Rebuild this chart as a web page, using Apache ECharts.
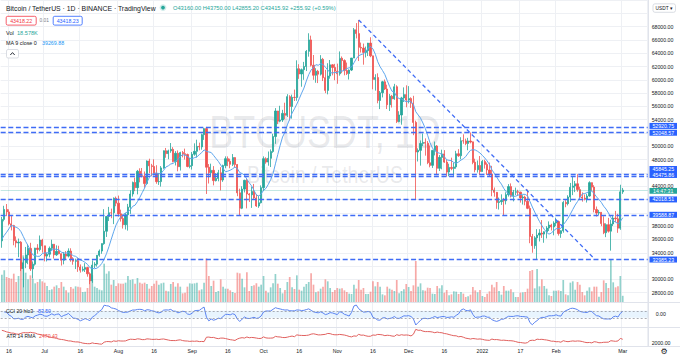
<!DOCTYPE html>
<html><head><meta charset="utf-8">
<script src="https://cdn.jsdelivr.net/npm/echarts@6/dist/echarts.min.js"></script>
<style>html,body{margin:0;padding:0;background:#fff;overflow:hidden}#c{width:680px;height:358px}</style>
</head><body><div id="c"></div>
<script>
// ---------- data (BTC/USDT daily, 2021-06-13 .. 2022-03-01) ----------
const startDate = [2021, 5, 13];
const totalDays = 272; // includes empty future days on the right
const tickLabels = [['2021-06-16','16'],['2021-07-01','Jul'],['2021-07-16','16'],['2021-08-01','Aug'],['2021-08-16','16'],['2021-09-01','Sep'],['2021-09-16','16'],['2021-10-01','Oct'],['2021-10-16','16'],['2021-11-01','Nov'],['2021-11-16','16'],['2021-12-01','Dec'],['2021-12-16','16'],['2022-01-01','2022'],['2022-01-17','17'],['2022-02-01','Feb'],['2022-03-01','Mar']];
const warmupCloses = [35520,35797,33581,33400,37389,36693,37314,35796];
const opens = [
35796,39020,40516,40143,38349,38092,35820,35483,35600,31614,32509,33675,34663,31577,32283,34702,34494,35911,
35045,33502,33786,34669,35288,33690,34220,33862,32875,33815,33502,34259,33087,32729,32820,31874,31384,31520,31778,30839,29790,32144,32287,33634,34262,35376,37241,39456,40019,40018,42206,
41461,39850,39146,38207,39724,40862,42836,44572,43794,46248,45585,45512,44400,47800,47069,46974,45902,44696,44705,46760,49339,48906,49321,49546,47707,48960,46942,49059,48895,48768,46970,
47100,48811,49247,49999,49918,51756,52667,46868,46048,46395,44843,45173,46025,44940,47103,48146,47753,47296,48307,47261,43012,40693,43574,44896,42840,42716,43208,42236,41035,41523,
43791,48142,47634,48200,49225,51472,55316,53786,53956,54950,54660,57471,55996,57370,57347,61672,60876,61528,62005,64280,66001,62194,60688,61286,60852,63078,60329,58413,60575,62253,61859,
61300,60911,63254,62896,61395,60940,61470,63274,67525,66947,64883,64774,64122,64381,65519,63606,60059,60345,56892,58057,59708,58623,56247,57541,57139,58960,53723,54716,57274,57776,
56951,57185,56485,53602,49153,49397,50441,50589,50471,47535,47141,49389,50054,46702,48336,48864,47632,46134,46834,46681,46914,48887,48588,50838,50820,50428,50802,50680,47623,46490,47120,
46217,47722,47286,46446,45832,43451,43082,41566,41680,41865,41822,42736,43950,42592,43100,43177,43113,42250,42375,41744,40680,36445,35071,36244,36660,36958,36807,37161,37712,38166,37882,
38466,38694,36897,37311,41572,41382,42380,43839,44043,44373,43495,42373,42217,42053,42535,44544,43873,40516,39974,40080,38387,37009,38230,37250,38328,39219,39116,37699,
43160];
const highs = [
39380,41064,41330,40527,39560,38202,36457,36137,35750,33298,34881,35298,35500,32700,34749,35297,36600,36100,
35057,33977,34945,35967,35293,35118,35059,33900,34100,34262,34666,34678,33340,33114,33185,32249,31935,32435,31899,31063,32858,32591,33650,34500,35398,40550,39542,40900,40640,42316,42448,
42599,40480,39780,39969,41350,43392,44700,45310,46454,46700,46743,46218,47887,48145,47372,48053,47160,46000,47033,49382,49757,49500,50500,49876,49278,49380,49188,49300,49657,48910,48250,
49150,50450,51000,50558,51900,52780,52920,47340,47399,47033,45970,46460,46880,47250,48500,48488,48150,48843,48372,47347,43639,44000,44978,45200,42970,43950,44350,42787,42590,44132,
48495,48358,49228,49536,51886,55750,55332,56100,55489,56561,57839,57680,57777,58532,62933,62350,61700,62695,64486,67000,66639,63732,61747,61500,63710,63293,61496,62499,62980,62359,62405,
62437,64270,63516,63086,62595,61560,63286,67789,68524,69000,65600,65450,65000,65550,66401,63617,60840,60977,58320,59846,60050,59266,57875,57735,59398,59183,55280,57445,58865,59176,
59054,57376,57600,53859,49700,50891,51936,51200,50797,50125,49485,50724,50189,48700,49500,49436,47995,47392,48300,47537,49328,49576,51375,51810,51156,51281,52088,50704,48139,47879,48549,
47954,47990,47570,47557,47070,43816,43145,42300,42786,42248,43100,44322,44434,43447,43800,43476,43180,42663,42579,43505,41100,36835,36499,37550,37545,38919,37234,38000,38720,38360,38738,
39265,38855,37387,41772,41914,42656,44500,45492,44799,45821,43920,43079,42760,42842,44751,44583,44164,40960,40444,40125,39494,38432,39249,38968,39683,40300,39855,44226,
43750];
const lows = [
34757,38730,39506,38116,37365,35129,34803,33336,31251,28805,31683,32286,31275,30151,32071,33862,34225,34017,
32711,32700,33316,34357,33125,33532,33777,32077,32261,33004,33307,32658,32202,31550,31133,31021,31175,31108,30407,29278,29482,31708,31924,33401,33851,35205,36383,38772,39200,38313,41000,
39423,38690,37642,37508,37332,39853,42446,43261,42779,44589,45341,43771,44217,45971,45500,45660,44376,44203,43955,46622,48285,48064,49028,47600,47126,46250,46363,48345,48010,46853,46700,
46512,48584,48316,49400,49500,50969,42843,44413,45514,44134,44722,44742,43370,44660,46700,47023,46700,47035,46850,42500,39600,40565,43069,40675,41646,40750,42098,40888,40754,41410,
43283,47390,47088,46891,49022,50383,53357,53617,53661,54080,54415,53879,54167,56818,56850,60150,58963,60000,61322,63481,62000,60000,59562,59510,60650,59817,58000,57820,60174,60674,59945,
59405,60624,61000,60677,60721,60050,61322,63273,66222,62822,64100,62278,63360,63576,63400,58574,58373,56474,55600,57353,58470,55610,55317,55837,57000,53500,53610,53256,56665,55875,
56458,55777,51680,42000,47727,47100,50039,48600,47320,46852,46751,48638,45672,46290,46547,47512,45456,45500,46406,45558,46630,48421,48049,50384,50171,49412,50449,47313,46096,46060,45678,
46208,46654,45696,45502,42500,42430,40610,40501,41200,39650,41268,42450,42311,41725,42654,42581,41540,41250,41138,40553,35440,34008,34602,32917,35701,36234,35507,36155,37268,37351,36632,
38000,36586,36250,37026,40844,41117,41645,42667,43117,43174,41938,41688,41870,41550,42427,43311,40073,39450,39639,38000,36800,36350,37036,34322,38015,38600,37000,37450,
42855.2];
const closes = [
39020,40516,40144,38349,38092,35820,35483,35600,31608,32509,33678,34664,31584,32283,34700,34494,35911,35045,
33504,33786,34669,35286,33690,34220,33862,32875,33815,33502,34259,33086,32729,32820,31880,31383,31520,31778,30839,29790,32144,32287,33634,34258,35381,37237,39457,40019,40016,42206,41462,
39845,39147,38207,39723,40862,42836,44572,43794,46253,45584,45512,44399,47800,47069,46973,45901,44696,44705,46760,49339,48905,49321,49546,47707,48960,46942,49059,48895,48767,46970,47100,
48810,49246,49999,49915,51756,52663,46863,46048,46395,44850,45173,46026,44941,47112,48146,47753,47303,48314,47261,43012,40693,43574,44895,42840,42716,43208,42236,41035,41522,43791,
48142,47634,48200,49225,51472,55316,53786,53951,54950,54659,57471,55996,57367,57347,61672,60875,61528,62009,64280,66001,62193,60688,61286,60852,63078,60328,58413,60575,62253,61859,61299,
60911,63219,62896,61395,60937,61470,63273,67525,66947,64882,64774,64122,64380,65519,63606,60059,60345,56892,58052,59708,58623,56247,57541,57138,58960,53726,54721,57274,57776,56950,
57185,56481,53601,49153,49396,50441,50588,50471,47545,47140,49389,50053,46702,48343,48864,47632,46131,46834,46681,46914,48889,48588,50838,50821,50429,50809,50640,47588,46464,47120,46216,
47722,47286,46446,45832,43451,43082,41566,41680,41864,41822,42735,43950,42592,43100,43177,43114,42251,42375,41744,40681,36445,35071,36244,36660,36958,36809,37161,37712,38166,37882,38466,
38694,36896,37311,41575,41382,42381,43840,44042,44373,43495,42373,42217,42053,42535,44544,43873,40515,39974,40080,38386,37008,38230,37250,38328,39219,39116,37700,43160,
43415.92];
const volumesK = [
82,95,75,72,70,85,60,78,120,140,88,68,80,70,56,60,68,62,
58,48,36,38,46,50,42,60,46,35,28,45,40,47,46,44,30,31,42,66,80,46,42,37,35,115,85,92,52,66,48,
56,55,55,58,78,66,68,55,72,58,55,58,54,40,48,55,64,52,56,58,34,32,54,60,46,56,46,26,28,46,56,
55,56,58,35,38,58,131,78,48,64,30,33,68,46,40,40,35,30,27,88,86,70,44,89,33,48,50,56,46,52,
78,34,28,44,56,84,55,42,26,36,60,75,44,39,80,37,34,46,54,60,86,52,29,32,40,46,68,62,42,30,36,
42,40,41,35,30,25,24,52,40,66,37,42,24,24,31,62,47,60,46,23,20,46,40,37,33,66,26,33,38,54,
45,33,50,123,46,56,35,34,43,42,25,24,48,41,50,28,36,20,23,32,31,24,30,25,15,17,22,45,35,29,36,
18,15,25,32,52,44,60,33,22,48,34,34,38,29,15,15,28,29,30,40,93,96,41,99,47,68,48,40,20,18,34,
34,35,33,66,23,20,58,62,37,60,52,30,20,34,44,32,46,46,16,30,65,57,42,128,59,44,47,78,
18.578];
const levels = [52920.75, 52048.57, 45845.25, 45475.86, 42018.51, 39588.87, 32985.23];
const trendStart = ['2021-11-10', 69000];
const trendEnd = ['2022-02-17', 33140];
const lastPrice = 43415.92;
const atrSeed = 3500;
const hiddenPriceLabels = [72000, 70000, 52000, 46000, 42000, 40000, 32000];

// ---------- derived ----------
const dates = [];
const d0 = Date.UTC(startDate[0], startDate[1], startDate[2]);
for (let i = 0; i < totalDays; i++) dates.push(new Date(d0 + i * 86400000).toISOString().slice(0, 10));
const tickMap = {}; tickLabels.forEach(t => tickMap[t[0]] = t[1]);
const isTick = (i, v) => tickMap[v] !== undefined;

const allCloses = warmupCloses.concat(closes);
const ma9 = closes.map((c, i) => { const j = i + warmupCloses.length; let s = 0; for (let k = j - 8; k <= j; k++) s += allCloses[k]; return s / 9; });
const tp = closes.map((c, i) => (highs[i] + lows[i] + c) / 3);
const cci = tp.map((v, i) => { const n = Math.min(20, i + 1); if (n < 2) return '-'; const w = tp.slice(i - n + 1, i + 1); const m = w.reduce((a, b) => a + b, 0) / n; const md = w.reduce((a, b) => a + Math.abs(b - m), 0) / n; return (v - m) / (0.015 * md); });
let prevAtr = atrSeed;
const atr = closes.map((c, i) => { const pc = i > 0 ? closes[i - 1] : opens[0]; const tr = Math.max(highs[i] - lows[i], Math.abs(highs[i] - pc), Math.abs(lows[i] - pc)); prevAtr = (prevAtr * 13 + tr) / 14; return prevAtr; });

function autoRange(arr) { const v = arr.filter(x => typeof x === 'number'); const mn = Math.min(...v), mx = Math.max(...v), r = mx - mn; return [mn - 0.125 * r, mx + 0.125 * r, mn, mx]; }
const cciR = autoRange(cci), atrR = autoRange(atr);

const UP = '#26a69a', DN = '#ef5350';
const F = '"Liberation Sans", Arial, sans-serif';
const TXT = '#131722';
const gridLine = '#eef0f4';
const L = 0.68, R = 680 - 647.7;

const chart = echarts.init(document.getElementById('c'), null, { renderer: 'svg', width: 680, height: 358 });
const xBase = (gi, showLabel) => ({
  type: 'category', gridIndex: gi, data: dates, boundaryGap: true,
  axisLine: { show: false }, axisTick: { show: false },
  axisLabel: { show: showLabel, interval: isTick, formatter: v => tickMap[v] || '', fontSize: 5.2, color: TXT, fontFamily: F, margin: 46 },
  splitLine: { show: true, interval: isTick, lineStyle: { color: gridLine, width: 1 } }
});

chart.setOption({
  animation: false,
  backgroundColor: '#fff',
  grid: [
    { left: L, right: R, top: -4.3, height: 297 },
    { left: L, right: R, top: 252, height: 50 },
    { left: L, right: R, top: 302.5, height: 25 },
    { left: L, right: R, top: 327.5, height: 18.5 }
  ],
  xAxis: [xBase(0, false), xBase(1, true), xBase(2, false), xBase(3, false)],
  yAxis: [
    { type: 'value', gridIndex: 0, position: 'right', min: 28000, max: 72000, interval: 2000, scale: true,
      axisLine: { show: false }, axisTick: { show: false },
      axisLabel: { fontSize: 5.2, color: TXT, fontFamily: F, margin: 4, formatter: v => hiddenPriceLabels.includes(v) ? '' : v.toFixed(2) },
      splitLine: { lineStyle: { color: gridLine, width: 1 } } },
    { type: 'value', gridIndex: 1, min: 0, max: 150, show: false },
    { type: 'value', gridIndex: 2, position: 'right', min: cciR[0], max: cciR[1], interval: -cciR[0],
      axisLine: { show: false }, axisTick: { show: false }, splitLine: { show: false },
      axisLabel: { fontSize: 5.2, color: TXT, fontFamily: F, margin: 8, showMinLabel: false, showMaxLabel: false, formatter: v => Math.abs(v) < 1e-6 ? '0.00' : '' } },
    { type: 'value', gridIndex: 3, position: 'right', min: atrR[0], max: atrR[1], interval: 2000 - atrR[0],
      axisLine: { show: false }, axisTick: { show: false }, splitLine: { show: false },
      axisLabel: { fontSize: 5.2, color: TXT, fontFamily: F, margin: 4, showMinLabel: false, showMaxLabel: false, formatter: v => Math.abs(v - 2000) < 1e-6 ? '2000.00' : '' } }
  ],
  series: [
    { type: 'bar', xAxisIndex: 1, yAxisIndex: 1, barWidth: 1.7, silent: true,
      data: volumesK.map((v, i) => ({ value: v, itemStyle: { color: closes[i] >= opens[i] ? 'rgba(38,166,154,0.5)' : 'rgba(239,83,80,0.5)' } })) },
    { type: 'candlestick', xAxisIndex: 0, yAxisIndex: 0, barWidth: 1.7, silent: true,
      data: closes.map((c, i) => [opens[i], c, lows[i], highs[i]]),
      itemStyle: { color: UP, color0: DN, borderColor: UP, borderColor0: DN, borderWidth: 0.8 },
      markLine: { symbol: ['none', 'none'], silent: true, animation: false, label: { show: false },
        data: [
          ...levels.map(v => ({ yAxis: v, lineStyle: { color: '#3f6cf6', width: 1.4, type: [5, 2.6] } })),
          { yAxis: lastPrice, lineStyle: { color: 'rgba(38,166,154,0.35)', width: 0.8, type: 'solid' } },
          [{ coord: trendStart, lineStyle: { color: '#3f6cf6', width: 1.3, type: [4, 3] } }, { coord: trendEnd }]
        ] } },
    { type: 'line', xAxisIndex: 0, yAxisIndex: 0, data: ma9, symbol: 'none', silent: true, lineStyle: { color: '#5ea6ee', width: 1 } },
    { type: 'line', xAxisIndex: 2, yAxisIndex: 2, data: cci, symbol: 'none', silent: true, lineStyle: { color: '#5b84f2', width: 1 },
      markLine: { symbol: ['none', 'none'], silent: true, label: { show: false }, lineStyle: { color: '#9598a1', width: 0.8, type: [2, 2] }, data: [{ yAxis: 100 }, { yAxis: -100 }] },
      markArea: { silent: true, itemStyle: { color: 'rgba(33,150,243,0.1)' }, data: [[{ yAxis: -100 }, { yAxis: 100 }]] } },
    { type: 'line', xAxisIndex: 3, yAxisIndex: 3, data: atr, symbol: 'none', silent: true, lineStyle: { color: '#e0605e', width: 1 } }
  ]
});

// ---------- overlay texts ----------
function txt(x, y, s, size, color, align, extra) {
  return Object.assign({ type: 'text', x: x, y: y, z: 100, silent: true,
    style: { text: s, fontSize: size, fontFamily: F, fill: color, textAlign: align || 'left', textVerticalAlign: 'middle', verticalAlign: 'middle' } }, extra || {});
}
function rect(x, y, w, h, fill, stroke, r) {
  return { type: 'rect', z: 99, silent: true, shape: { x: x, y: y, width: w, height: h, r: r || 0 }, style: { fill: fill, stroke: stroke || null, lineWidth: stroke ? 0.8 : 0 } };
}
function line(x1, y1, x2, y2, c) { return { type: 'line', z: 98, silent: true, shape: { x1: x1, y1: y1, x2: x2, y2: y2 }, style: { stroke: c, lineWidth: 1 } }; }

const g = [];
g.push(txt(325, 132.5, 'BTCUSDT, 1D', 46, 'rgba(120,123,134,0.17)', 'center', { z: 1, scaleX: 0.78 }));
g.push(txt(325, 175.5, 'Bitcoin / TetherUS', 23, 'rgba(120,123,134,0.17)', 'center', { z: 1, scaleX: 0.85 }));
g.push(line(648.5, 0, 648.5, 346.5, '#e0e3eb'));
g.push(line(0, 302.5, 680, 302.5, '#e0e3eb'));
g.push(line(0, 327.5, 680, 327.5, '#e0e3eb'));
g.push(line(0, 346.5, 680, 346.5, '#e0e3eb'));
// header
g.push(txt(6, 8.3, 'Bitcoin / TetherUS · 1D · BINANCE · TradingView', 6.85, TXT));
g.push({ type: 'circle', z: 99, silent: true, shape: { cx: 163, cy: 7.6, r: 3.4 }, style: { fill: 'rgba(38,166,154,0.22)' } });
g.push({ type: 'circle', z: 100, silent: true, shape: { cx: 163, cy: 7.6, r: 1.9 }, style: { fill: UP } });
g.push(txt(173, 8.3, 'O43160.00 H43750.00 L42855.20 C43415.92 +255.92 (+0.59%)', 5.7, UP));
g.push(rect(6.2, 16.3, 30, 8.8, '#fff', '#f23645', 1.5));
g.push(txt(21.2, 20.7, '43418.22', 5.3, '#f23645', 'center'));
g.push(txt(39.5, 20.7, '0.01', 4.8, '#787b86'));
g.push(rect(53.2, 16.3, 29, 8.8, '#fff', '#2962ff', 1.5));
g.push(txt(67.7, 20.7, '43418.23', 5.3, '#2962ff', 'center'));
g.push(txt(6, 32.7, 'Vol', 5.6, TXT));
g.push(txt(17, 32.7, '18.578K', 5.6, UP));
g.push(txt(6, 43.3, 'MA 9 close 0', 5.4, TXT));
g.push(txt(42, 43.3, '39269.88', 5.3, '#2196f3'));
g.push(rect(6.5, 49.5, 12, 8.5, '#fff', '#d1d4dc', 1.5));
g.push({ type: 'polyline', z: 101, silent: true, shape: { points: [[10.3, 55], [12.5, 52.6], [14.7, 55]] }, style: { stroke: TXT, lineWidth: 0.9, fill: null } });
// pane legends
g.push(txt(6, 310.7, 'CCI 20 hlc3', 5.2, TXT));
g.push(txt(38, 310.7, '83.50', 5.2, '#2962ff'));
g.push(txt(6.5, 335.7, 'ATR 14 RMA', 5.0, TXT));
g.push(txt(39, 335.7, '2470.43', 5.2, '#ef5350'));
// price scale extras
g.push(rect(653, 3.8, 22.5, 8.5, '#fff', '#d1d4dc', 2));
g.push(txt(664.2, 8.1, 'USDT ▾', 4.8, TXT, 'center'));
g.push(txt(664, 351.5, '⚙', 8, TXT, 'center', { style: { text: '⚙', fontSize: 8, fontFamily: '"DejaVu Sans", sans-serif', fill: TXT, textAlign: 'center', textVerticalAlign: 'middle', verticalAlign: 'middle' } }));
const levelShift = [-1, 0, -5, -1.5, 0, -0.8, 0];
levels.forEach((v, i) => {
  const y = chart.convertToPixel({ yAxisIndex: 0 }, v) + levelShift[i];
  g.push(rect(649.5, y - 3, 27.5, 6, '#2962ff'));
  g.push(txt(663.2, y, v.toFixed(2), 5.2, '#fff', 'center', { z: 101 }));
});
const yLast = chart.convertToPixel({ yAxisIndex: 0 }, lastPrice) + 0.7;
g.push(rect(649.5, yLast - 2.9, 27.5, 5.8, UP));
g.push(txt(663.2, yLast, '14:47:31', 5.2, '#fff', 'center', { z: 101 }));
chart.setOption({ graphic: g });
</script></body></html>
